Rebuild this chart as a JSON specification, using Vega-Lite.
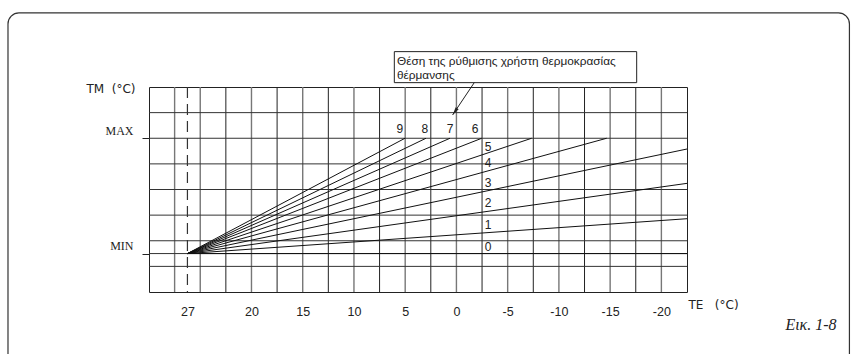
{
  "$schema": "https://vega.github.io/schema/vega-lite/v6.json",
  "width": 538,
  "height": 205,
  "autosize": {"type": "none"},
  "padding": {"left": 149, "top": 87, "right": 164, "bottom": 62},
  "background": "white",
  "config": {"view": {"stroke": "#222", "strokeWidth": 1}},
  "datasets": {
    "frame": [{"TE": 43.76, "TE2": -38.35, "TM": 10.89, "TM2": -2.85}],
    "gridDark": [{"TE": 22.5}, {"TE": 17.5}, {"TE": 12.5}, {"TE": 7.5}, {"TE": 2.5}, {"TE": -2.5}, {"TE": -7.5}, {"TE": -12.5}, {"TE": -17.5}],
    "gridGray": [{"TE": 27.5}, {"TE": 25}, {"TE": 20}, {"TE": 15}, {"TE": 10}, {"TE": 5}, {"TE": 0}, {"TE": -5}, {"TE": -10}, {"TE": -15}, {"TE": -20}],
    "gridH": [{"TM": 1}, {"TM": 1.5}, {"TM": 2}, {"TM": 3}, {"TM": 4}, {"TM": 5}, {"TM": 6}, {"TM": 7}],
    "dashed": [{"TE": 26.25}],
    "curves": [
      {"curve": "0", "TE": 26.25, "TM": 1.5}, {"curve": "0", "TE": -22.5, "TM": 1.5},
      {"curve": "1", "TE": 26.25, "TM": 1.5}, {"curve": "1", "TE": -22.5, "TM": 2.86},
      {"curve": "2", "TE": 26.25, "TM": 1.5}, {"curve": "2", "TE": -22.5, "TM": 4.24},
      {"curve": "3", "TE": 26.25, "TM": 1.5}, {"curve": "3", "TE": -22.5, "TM": 5.58},
      {"curve": "4", "TE": 26.25, "TM": 1.5}, {"curve": "4", "TE": -14.66, "TM": 6},
      {"curve": "5", "TE": 26.25, "TM": 1.5}, {"curve": "5", "TE": -7.34, "TM": 6},
      {"curve": "6", "TE": 26.25, "TM": 1.5}, {"curve": "6", "TE": -2.47, "TM": 6},
      {"curve": "7", "TE": 26.25, "TM": 1.5}, {"curve": "7", "TE": 0.63, "TM": 6},
      {"curve": "8", "TE": 26.25, "TM": 1.5}, {"curve": "8", "TE": 2.97, "TM": 6},
      {"curve": "9", "TE": 26.25, "TM": 1.5}, {"curve": "9", "TE": 5.02, "TM": 6}
    ],
    "curveLabels": [
      {"label": "9", "TE": 5.51, "TM": 6.36},
      {"label": "8", "TE": 3.07, "TM": 6.36},
      {"label": "7", "TE": 0.63, "TM": 6.36},
      {"label": "6", "TE": -1.81, "TM": 6.36},
      {"label": "5", "TE": -3.1, "TM": 5.67},
      {"label": "4", "TE": -3.1, "TM": 5.02},
      {"label": "3", "TE": -3.1, "TM": 4.24},
      {"label": "2", "TE": -3.1, "TM": 3.48},
      {"label": "1", "TE": -3.1, "TM": 2.61},
      {"label": "0", "TE": -3.1, "TM": 1.77}
    ],
    "box": [{"TE": 6.06, "TE2": -17.59, "TM": 9.38, "TM2": 8.17}],
    "note": [
      {"label": "Θέση της ρύθμισης χρήστη θερμοκρασίας", "TE": 5.8, "TM": 9.02},
      {"label": "θέρμανσης", "TE": 5.8, "TM": 8.48}
    ],
    "arrow": [{"TE": -1.74, "TM": 8.17, "TE2": 0.37, "TM2": 6.91}],
    "arrowHead": [{"TE": 0.15, "TM": 7.04}],
    "caption": [{"label": "Εικ. 1-8", "TE": -37.1, "TM": -1.29}]
  },
  "layer": [
    {
      "data": {"name": "frame"},
      "mark": {"type": "rect", "fillOpacity": 0, "stroke": "#333", "strokeWidth": 1.2, "cornerRadius": 11},
      "encoding": {
        "x": {
          "field": "TE", "type": "quantitative",
          "scale": {"domain": [-22.5, 30], "reverse": true, "nice": false, "zero": false},
          "axis": {
            "values": [26.25, 20, 15, 10, 5, 0, -5, -10, -15, -20],
            "labelExpr": "datum.value == 26.25 ? '27' : '' + datum.value",
            "grid": false, "domain": false, "ticks": false, "tickSize": 0,
            "labelPadding": 19, "labelBaseline": "middle", "labelFlush": false, "labelOverlap": false,
            "labelFont": "Liberation Sans", "labelFontSize": 12.5, "labelColor": "#222",
            "title": "TE\u00a0\u00a0\u00a0(°C)", "titleX": 539, "titleY": 12, "titleAlign": "left", "titleBaseline": "middle", "titleAngle": 0,
            "titleFont": "DejaVu Sans", "titleFontSize": 12, "titleFontWeight": "normal", "titleColor": "#222"
          }
        },
        "x2": {"field": "TE2"},
        "y": {
          "field": "TM", "type": "quantitative",
          "scale": {"domain": [0, 8], "nice": false, "zero": false},
          "axis": {
            "values": [1.5, 6],
            "labelExpr": "datum.value == 6 ? 'MAX' : 'MIN'",
            "grid": false, "domain": false, "ticks": true, "tickSize": 7, "tickColor": "#222", "tickWidth": 1,
            "labelPadding": 9, "labelBaseline": "alphabetic", "labelOffset": -4,
            "labelFont": "Liberation Serif", "labelFontSize": 12, "labelColor": "#222",
            "title": "TM\u00a0\u00a0(°C)", "titleX": -14, "titleY": 1, "titleAlign": "right", "titleBaseline": "middle", "titleAngle": 0,
            "titleFont": "DejaVu Sans", "titleFontSize": 12, "titleFontWeight": "normal", "titleColor": "#222"
          }
        },
        "y2": {"field": "TM2"}
      }
    },
    {
      "data": {"name": "gridDark"},
      "mark": {"type": "rule", "color": "#222", "strokeWidth": 1},
      "encoding": {
        "x": {"field": "TE", "type": "quantitative"}
      }
    },
    {
      "data": {"name": "gridGray"},
      "mark": {"type": "rule", "color": "#777", "strokeWidth": 1.4},
      "encoding": {
        "x": {"field": "TE", "type": "quantitative"}
      }
    },
    {
      "data": {"name": "gridH"},
      "mark": {"type": "rule", "color": "#333", "strokeWidth": 1},
      "encoding": {
        "y": {"field": "TM", "type": "quantitative"}
      }
    },
    {
      "data": {"name": "dashed"},
      "mark": {"type": "rule", "color": "#333", "strokeWidth": 1.2, "strokeDash": [11, 6]},
      "encoding": {
        "x": {"field": "TE", "type": "quantitative"}
      }
    },
    {
      "data": {"name": "curves"},
      "mark": {"type": "line", "color": "#111", "strokeWidth": 1},
      "encoding": {
        "x": {"field": "TE", "type": "quantitative"},
        "y": {"field": "TM", "type": "quantitative"},
        "detail": {"field": "curve"}
      }
    },
    {
      "data": {"name": "curveLabels"},
      "mark": {"type": "text", "font": "Liberation Sans", "fontSize": 12, "color": "#222", "align": "center", "baseline": "middle"},
      "encoding": {
        "x": {"field": "TE", "type": "quantitative"},
        "y": {"field": "TM", "type": "quantitative"},
        "text": {"field": "label"}
      }
    },
    {
      "data": {"name": "box"},
      "mark": {"type": "rect", "fill": "white", "stroke": "#222", "strokeWidth": 1},
      "encoding": {
        "x": {"field": "TE", "type": "quantitative"},
        "x2": {"field": "TE2"},
        "y": {"field": "TM", "type": "quantitative"},
        "y2": {"field": "TM2"}
      }
    },
    {
      "data": {"name": "note"},
      "mark": {"type": "text", "font": "Liberation Sans", "fontSize": 11.8, "color": "#222", "align": "left", "baseline": "middle"},
      "encoding": {
        "x": {"field": "TE", "type": "quantitative"},
        "y": {"field": "TM", "type": "quantitative"},
        "text": {"field": "label"}
      }
    },
    {
      "data": {"name": "arrow"},
      "mark": {"type": "rule", "color": "#222", "strokeWidth": 1},
      "encoding": {
        "x": {"field": "TE", "type": "quantitative"},
        "y": {"field": "TM", "type": "quantitative"},
        "x2": {"field": "TE2"},
        "y2": {"field": "TM2"}
      }
    },
    {
      "data": {"name": "arrowHead"},
      "mark": {"type": "point", "shape": "M0,-1L0.45,1L-0.45,1Z", "size": 64, "angle": 214, "filled": true, "color": "#222", "opacity": 1},
      "encoding": {
        "x": {"field": "TE", "type": "quantitative"},
        "y": {"field": "TM", "type": "quantitative"}
      }
    },
    {
      "data": {"name": "caption"},
      "mark": {"type": "text", "font": "Liberation Serif", "fontStyle": "italic", "fontSize": 16, "color": "#222", "align": "right", "baseline": "middle"},
      "encoding": {
        "x": {"field": "TE", "type": "quantitative"},
        "y": {"field": "TM", "type": "quantitative"},
        "text": {"field": "label"}
      }
    }
  ]
}
